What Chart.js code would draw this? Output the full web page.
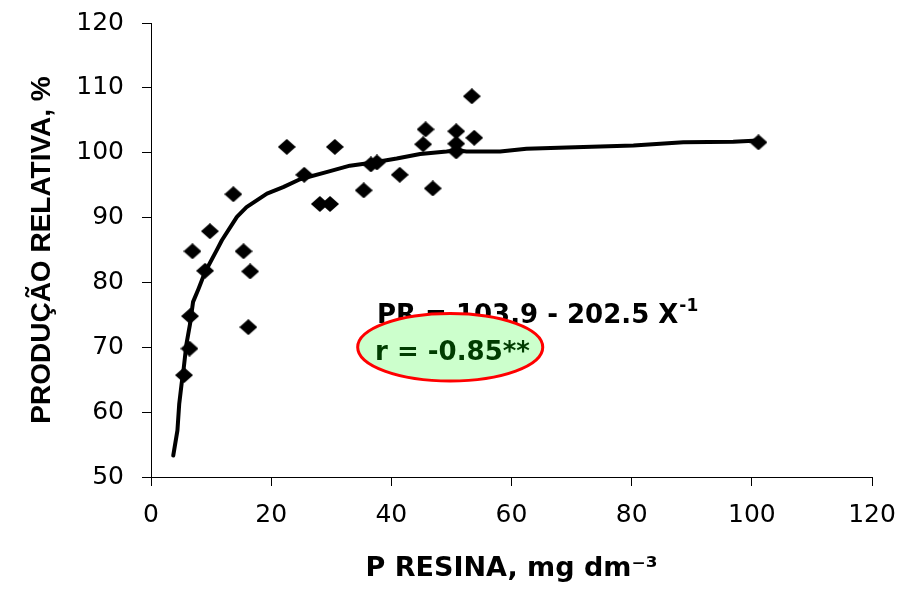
<!DOCTYPE html>
<html>
<head>
<meta charset="utf-8">
<script src="https://cdn.jsdelivr.net/npm/chart.js"></script>
<style>
html,body{margin:0;padding:0;background:#ffffff;}
#c{display:block;}
</style>
</head>
<body>
<canvas id="c" width="912" height="596"></canvas>
<script>
// ---- data ----
const xTicks = [0, 20, 40, 60, 80, 100, 120];
const yTicks = [50, 60, 70, 80, 90, 100, 110, 120];

// observed points (P resina, produção relativa)
const obsX = [5.5, 6.4, 6.5, 6.9, 9.0, 9.8, 13.7, 15.4, 16.2, 16.5, 22.6, 25.5, 28.1, 29.8, 30.6, 35.4, 36.6, 37.6, 41.4, 45.3, 45.7, 46.9, 50.8, 50.8, 50.8, 53.4, 53.8, 101.1];
const obsY = [65.7, 69.8, 74.8, 84.8, 81.8, 87.9, 93.6, 84.8, 73.1, 81.7, 100.9, 96.6, 92.1, 92.1, 100.9, 94.2, 98.2, 98.5, 96.6, 101.3, 103.6, 94.5, 103.3, 101.4, 100.2, 108.7, 102.3, 101.6];

// fitted curve as traced on the picture
const fitX = [3.7, 4.4, 4.7, 5.1, 5.4, 5.9, 6.5, 7.0, 7.9, 9.0, 10.9, 11.8, 14.3, 15.9, 19.3, 22.0, 24.8, 29.2, 33.1, 37.0, 40.9, 44.8, 49.2, 50.9, 52.5, 58.1, 62.5, 69.2, 80.3, 88.6, 96.9, 101.1];
const fitY = [53.3, 57.2, 61.3, 64.4, 66.4, 70.5, 73.6, 77.0, 79.0, 81.6, 84.9, 86.5, 90.1, 91.6, 93.7, 94.7, 95.9, 97.0, 98.0, 98.5, 99.1, 99.8, 100.2, 100.4, 100.2, 100.2, 100.6, 100.8, 101.1, 101.6, 101.7, 101.9];

const xTitle = 'P RESINA, mg dm\u207B\u00B3';
const yTitle = 'PRODUÇÃO RELATIVA, %';
const eqMain = 'PR = 103.9 - 202.5 X';
const eqSup = '-1';
const rText = 'r = -0.85**';

// ---- diamond marker ----
const marker = document.createElement('canvas');
marker.width = 18; marker.height = 16;
(function(){
  const m = marker.getContext('2d');
  m.fillStyle = '#000';
  m.beginPath();
  m.moveTo(9, 0); m.lineTo(18, 8); m.lineTo(9, 16); m.lineTo(0, 8);
  m.closePath(); m.fill();
})();

const annotationPlugin = {
  id: 'eqAnnot',
  afterDatasetsDraw(chart) {
    const ctx = chart.ctx;
    const xs = chart.scales.x, ys = chart.scales.y;
    ctx.save();
    ctx.fillStyle = '#000';
    ctx.textBaseline = 'alphabetic';
    ctx.textAlign = 'left';
    ctx.font = 'bold 26px "DejaVu Sans"';
    const ex = xs.getPixelForValue(37.6), ey = ys.getPixelForValue(73.8);
    ctx.fillText(eqMain, ex, ey);
    const w = ctx.measureText(eqMain).width;
    ctx.font = 'bold 17px "DejaVu Sans"';
    ctx.fillText(eqSup, ex + w + 1, ey - 12);
    const cx = xs.getPixelForValue(49.8), cy = ys.getPixelForValue(70.0);
    const rx = xs.getPixelForValue(49.8 + 15.4) - cx;
    const ry = cy - ys.getPixelForValue(70.0 + 5.2);
    ctx.beginPath();
    ctx.ellipse(cx, cy, rx, ry, 0, 0, Math.PI * 2);
    ctx.fillStyle = '#ccffcc';
    ctx.fill();
    ctx.lineWidth = 3;
    ctx.strokeStyle = '#ff0000';
    ctx.stroke();
    ctx.fillStyle = '#003c00';
    ctx.font = 'bold 26px "DejaVu Sans"';
    ctx.fillText(rText, xs.getPixelForValue(37.3), ys.getPixelForValue(68.0));
    ctx.restore();
  }
};

new Chart(document.getElementById('c'), {
  type: 'scatter',
  data: {
    datasets: [
      {
        label: 'observado',
        data: obsX.map((x, i) => ({x: x, y: obsY[i]})),
        pointStyle: marker,
        pointRadius: 8,
        backgroundColor: '#000',
        borderColor: '#000',
        showLine: false
      },
      {
        label: 'ajuste',
        data: fitX.map((x, i) => ({x: x, y: fitY[i]})),
        showLine: true,
        pointRadius: 0,
        borderColor: '#000',
        borderWidth: 4,
        borderJoinStyle: 'round',
        borderCapStyle: 'round',
        tension: 0,
        fill: false
      }
    ]
  },
  options: {
    responsive: false,
    animation: false,
    devicePixelRatio: 1,
    layout: { padding: { top: 23, right: 40, left: 0, bottom: 0 } },
    plugins: { legend: { display: false }, tooltip: { enabled: false } },
    scales: {
      x: {
        type: 'linear',
        min: 0, max: 120,
        afterBuildTicks: s => { s.ticks = xTicks.map(v => ({value: v})); },
        afterFit: s => { s.height = 119; s.paddingLeft = 0; s.paddingRight = 0; },
        ticks: { color: '#000', font: { family: 'DejaVu Sans', size: 25 }, padding: 14, maxRotation: 0 },
        grid: { drawOnChartArea: false, drawTicks: true, tickLength: 9, color: '#000' },
        border: { display: true, color: '#000', width: 1 },
        title: { display: true, text: xTitle, color: '#000', font: { family: 'DejaVu Sans', size: 27, weight: 'bold' }, padding: { top: 0, bottom: 11 } }
      },
      y: {
        type: 'linear',
        min: 50, max: 120,
        afterBuildTicks: s => { s.ticks = yTicks.map(v => ({value: v})); },
        afterFit: s => { s.width = 151; s.paddingTop = 0; s.paddingBottom = 0; },
        ticks: { color: '#000', font: { family: 'DejaVu Sans', size: 25 }, padding: 18 },
        grid: { drawOnChartArea: false, drawTicks: true, tickLength: 9, color: '#000' },
        border: { display: true, color: '#000', width: 1 },
        title: { display: true, text: yTitle, color: '#000', font: { family: 'Liberation Sans', size: 28, weight: 'bold' }, padding: { top: 25, bottom: 0 } }
      }
    }
  },
  plugins: [annotationPlugin]
});
</script>
</body>
</html>
